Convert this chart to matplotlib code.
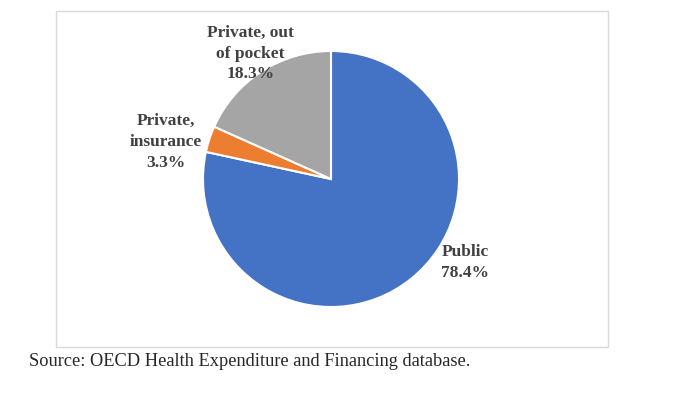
import matplotlib
matplotlib.use('Agg')
import matplotlib.pyplot as plt
from matplotlib.patches import Rectangle

categories = ['Public', 'Private,\ninsurance', 'Private, out\nof pocket']
shares = [78.4, 3.3, 18.3]
colors = ['#4472C4', '#ED7D31', '#A5A5A5']
source = 'Source: OECD Health Expenditure and Financing database.'

W, H = 681, 397
fig = plt.figure(figsize=(W / 100, H / 100), dpi=100)

# chart frame
fig.patches.append(Rectangle((56 / W, 1 - 347 / H), (608 - 56) / W, (347 - 11) / H,
                             transform=fig.transFigure, fill=False,
                             edgecolor='#D9D9D9', linewidth=1))

cx, cy, r = 331, 179, 128
ax = fig.add_axes([(cx - r) / W, 1 - (cy + r) / H, 2 * r / W, 2 * r / H])
wedges, _ = ax.pie(shares, colors=colors, startangle=90, counterclock=False,
                   wedgeprops=dict(edgecolor='white', linewidth=1.5))
ax.set_xlim(-1, 1)
ax.set_ylim(-1, 1)

# label positions (data coords, picked to match the excel "best fit")
label_pos = [(1.05, -0.65), (-1.29, 0.29), (-0.63, 0.98)]
for name, val, (x, y) in zip(categories, shares, label_pos):
    ax.text(x, y, f'{name}\n{val:.1f}%', ha='center', va='center',
            family='Liberation Serif', fontweight='bold', fontsize=12.5,
            color='#404040', linespacing=1.4, clip_on=False)

fig.text(29 / W, 1 - 361 / H, source, ha='left', va='center',
         family='Liberation Serif', fontsize=13.2, color='#262626')

fig.savefig('out.png', dpi=100)
